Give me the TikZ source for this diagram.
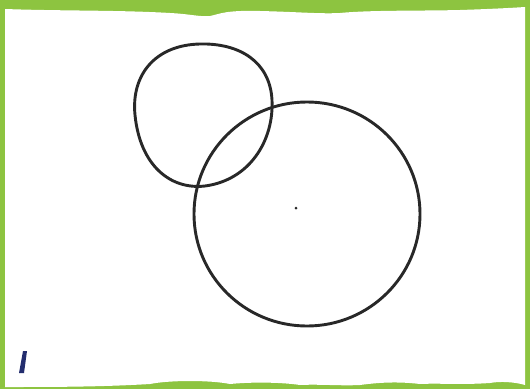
\documentclass[tikz,border=0pt]{standalone}
\definecolor{leaf}{RGB}{141,196,64}
\definecolor{ink}{RGB}{40,40,40}
\definecolor{navy}{RGB}{35,45,110}
\tikzset{outline/.style={draw=ink,line width=2.9pt}}
\begin{document}
\begin{tikzpicture}[x=1pt,y=-1pt]
\useasboundingbox (0,0) rectangle (530,389);
\fill[leaf] (0,0) rectangle (530,389);
% white paper with wavy top and bottom
\fill[white] (5,9) .. controls (60,11) and (120,10) .. (170,13)
  .. controls (190,14) and (200,17) .. (210,16)
  .. controls (220,14) and (225,10) .. (260,11)
  .. controls (300,12) and (320,14) .. (340,13)
  .. controls (370,10) and (420,11) .. (460,10)
  .. controls (490,9) and (510,8) .. (525,7)
  -- (525,385)
  .. controls (515,382) and (500,381) .. (490,383)
  .. controls (460,385) and (440,383) .. (420,384)
  .. controls (395,381) and (375,383) .. (360,385)
  .. controls (340,386) and (320,384) .. (300,385)
  .. controls (280,382) and (250,382) .. (230,384)
  .. controls (210,380) and (170,380) .. (150,384)
  .. controls (100,387) and (50,387) .. (5,387) -- cycle;
% blob
\draw[outline] (200,44) .. controls (240,43) and (270,62) .. (272,100)
  .. controls (274,140) and (250,180) .. (205,186)
  .. controls (170,190) and (140,165) .. (135,115)
  .. controls (131,75) and (155,45) .. (200,44) -- cycle;
% big circle
\draw[outline] (307,214) circle[x radius=113pt,y radius=112pt];
\fill[ink] (296,208) circle[radius=1.5pt];
% blue mark
\fill[navy] (23,351) -- (27,351) -- (24,373) -- (19,373) -- cycle;
\end{tikzpicture}
\end{document}
